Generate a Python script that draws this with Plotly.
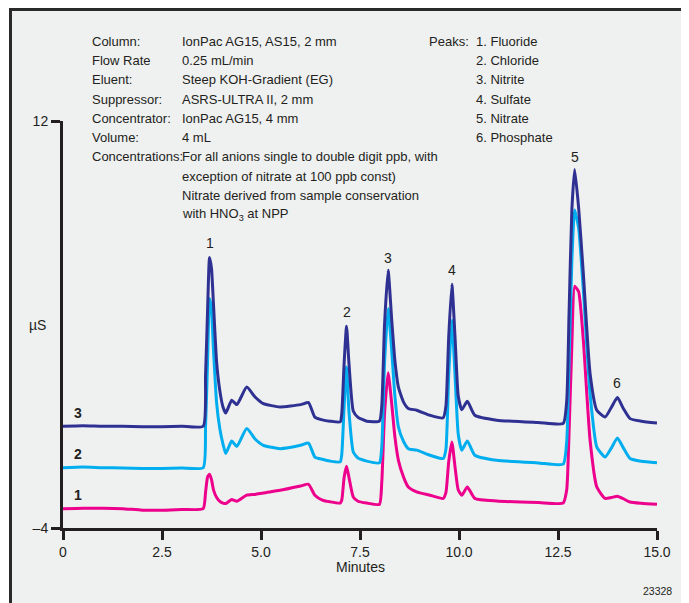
import plotly.graph_objects as go

# ---- data ----
minutes = [0, 0.5, 1.0, 1.5, 2.0, 2.5, 3.0, 3.54, 3.60, 3.65, 3.70, 3.75, 3.80, 3.88, 3.96,
           4.04, 4.11, 4.26, 4.39, 4.64, 4.85, 5.06, 5.48, 6.0, 6.2, 6.36, 6.55, 6.74, 7.0,
           7.04, 7.10, 7.16, 7.22, 7.33, 7.45, 7.67, 7.99, 8.05, 8.12, 8.21, 8.30, 8.38, 8.47,
           8.60, 8.72, 8.93, 9.27, 9.6, 9.67, 9.74, 9.82, 9.90, 9.98, 10.07, 10.21, 10.4,
           10.95, 12.0, 12.63, 12.72, 12.78, 12.85, 12.92, 13.02, 13.14, 13.31, 13.48, 13.69,
           13.85, 14.0, 14.15, 14.32, 14.6, 15.0]

trace3 = [0.0, 0.02, 0.0, 0.0, -0.02, -0.02, 0.0, 0.0, 2.0, 4.5, 6.63, 6.2, 4.8, 2.5, 1.4,
          0.76, 0.52, 1.02, 0.85, 1.54, 1.15, 0.89, 0.76, 0.85, 0.93, 0.36, 0.25, 0.2, 0.17,
          0.5, 2.5, 3.93, 2.5, 0.6, 0.35, 0.2, 0.2, 0.8, 4.0, 6.13, 4.2, 2.6, 1.54,
          0.95, 0.7, 0.63, 0.43, 0.33, 0.8, 3.5, 5.58, 3.5, 1.2, 0.65, 0.98, 0.43,
          0.24, 0.15, 0.11, 1.0, 4.5, 8.5, 10.09, 8.6, 6.0, 2.07, 0.63, 0.36,
          0.75, 1.13, 0.7, 0.3, 0.2, 0.13]

trace2 = [-1.63, -1.6, -1.63, -1.64, -1.66, -1.66, -1.64, -1.63, 0.0, 2.5, 5.02, 4.6, 3.0, 0.9, -0.1,
          -0.7, -1.07, -0.58, -0.79, -0.09, -0.5, -0.75, -0.88, -0.75, -0.66, -1.21, -1.3, -1.37, -1.4,
          -1.1, 0.8, 2.33, 0.6, -1.01, -1.25, -1.37, -1.44, -0.8, 2.5, 4.63, 3.0, 1.2, -0.03,
          -0.6, -0.88, -0.94, -1.14, -1.27, -0.9, 2.0, 4.17, 2.0, -0.3, -0.94, -0.58, -1.14,
          -1.34, -1.44, -1.49, -0.6, 2.5, 6.5, 8.5, 7.8, 5.35, 1.28, -0.82, -1.21,
          -0.85, -0.46, -0.85, -1.27, -1.38, -1.44]

trace1 = [-3.24, -3.22, -3.22, -3.24, -3.3, -3.3, -3.27, -3.24, -2.6, -2.0, -1.89, -2.1, -2.5, -2.8, -2.95,
          -3.02, -3.04, -2.88, -2.95, -2.71, -2.68, -2.62, -2.52, -2.35, -2.28, -2.71, -2.9, -2.97, -3.02,
          -2.9, -2.0, -1.57, -2.0, -2.78, -2.95, -3.02, -3.07, -2.2, 0.5, 2.1, 0.9, -0.4, -1.34,
          -2.0, -2.39, -2.58, -2.71, -2.84, -2.6, -1.4, -0.62, -1.6, -2.5, -2.71, -2.39, -2.84,
          -2.94, -3.0, -3.02, -2.5, -0.2, 3.2, 5.5, 5.3, 3.38, -0.55, -2.39, -2.84,
          -2.8, -2.75, -2.85, -2.98, -3.03, -3.07]

trace_names = ["1", "2", "3"]
trace_colors = ["#ec008c", "#00aeef", "#2e3192"]

x_tickvals = [0, 2.5, 5, 7.5, 10, 12.5, 15]
x_ticktext = ["0", "2.5", "5.0", "7.5", "10.0", "12.5", "15.0"]
y_tickvals = [-4, 12]
y_ticktext = ["\u20134", "12"]

peak_labels = ["1", "2", "3", "4", "5", "6"]
peak_times = [3.70, 7.16, 8.21, 9.82, 12.92, 14.0]
peak_label_y = [7.19, 4.5, 6.6, 6.13, 10.57, 1.69]

cond_keys = ["Column:", "Flow Rate", "Eluent:", "Suppressor:", "Concentrator:", "Volume:", "Concentrations:"]
cond_vals = ["IonPac AG15, AS15, 2 mm", "0.25 mL/min", "Steep KOH-Gradient (EG)",
             "ASRS-ULTRA II, 2 mm", "IonPac AG15, 4 mm", "4 mL",
             "For all anions single to double digit ppb, with",
             "exception of nitrate at 100 ppb const)",
             "Nitrate derived from sample conservation",
             "with HNO<sub>3</sub> at NPP"]
peak_names = ["1. Fluoride", "2. Chloride", "3. Nitrite", "4. Sulfate", "5. Nitrate", "6. Phosphate"]

# ---- layout geometry (screen pixels; page body has an 8px margin) ----
OFF = 8
W_FIG, H_FIG = 689 - OFF, 603 - OFF
L, R, T, B = 63 - OFF, 657 - OFF, 121 - OFF, 528 - OFF
PW, PH = R - L, B - T


def px(x):
    return (x - OFF - L) / PW


def py(y):
    return (B - (y - OFF)) / PH


FONT = "Liberation Sans Narrow, Arial Narrow, Liberation Sans, Arial, sans-serif"
TXT = "#231f20"
FS_BLOCK = 13
FS = 14

fig = go.Figure()
series = [trace1, trace2, trace3]
for name, col, vals in zip(trace_names, trace_colors, series):
    fig.add_trace(go.Scatter(x=minutes, y=vals, mode="lines", name=name,
                             line=dict(color=col, width=3, shape="spline", smoothing=0.5),
                             showlegend=False))

annotations = []
row_y = [41.3, 60.5, 79.8, 99.0, 118.3, 137.6, 156.9, 176.1, 195.4, 214.6]
for i, k in enumerate(cond_keys):
    annotations.append(dict(x=px(89.5), y=py(row_y[i]), text=k))
for i, v in enumerate(cond_vals):
    annotations.append(dict(x=px(179.5), y=py(row_y[i]), text=v))
annotations.append(dict(x=px(426.5), y=py(row_y[0]), text="Peaks:"))
for i, n in enumerate(peak_names):
    annotations.append(dict(x=px(473.5), y=py(row_y[i]), text=n))

for a in annotations:
    a.update(xref="paper", yref="paper", showarrow=False, xanchor="left", yanchor="middle",
             font=dict(size=FS_BLOCK, color=TXT, family=FONT))

for lab, t, yv in zip(peak_labels, peak_times, peak_label_y):
    annotations.append(dict(x=t, y=yv, xref="x", yref="y", text=lab, showarrow=False,
                            xanchor="center", yanchor="middle",
                            font=dict(size=FS, color=TXT, family=FONT)))

trace_label_y = [-2.71, -1.1, 0.51]
for name, yv in zip(trace_names, trace_label_y):
    annotations.append(dict(x=0.38, y=yv, xref="x", yref="y", text="<b>" + name + "</b>", showarrow=False,
                            xanchor="center", yanchor="middle",
                            font=dict(size=FS, color=TXT, family=FONT)))

annotations.append(dict(x=px(37), y=py(325), xref="paper", yref="paper", text="\u00b5S", showarrow=False,
                        xanchor="center", yanchor="middle",
                        font=dict(size=FS, color=TXT, family=FONT)))
annotations.append(dict(x=px(360), y=py(566.5), xref="paper", yref="paper", text="Minutes", showarrow=False,
                        xanchor="center", yanchor="middle",
                        font=dict(size=FS, color=TXT, family=FONT)))
annotations.append(dict(x=px(657), y=py(590.5), xref="paper", yref="paper", text="23328", showarrow=False,
                        xanchor="center", yanchor="middle",
                        font=dict(size=10.5, color=TXT, family=FONT)))

fig.update_layout(
    width=W_FIG, height=H_FIG,
    margin=dict(l=L, r=W_FIG - R, t=T, b=H_FIG - B, pad=0),
    paper_bgcolor="white",
    plot_bgcolor="rgba(0,0,0,0)",
    font=dict(family=FONT, size=FS, color=TXT),
    annotations=annotations,
    shapes=[dict(type="rect", xref="paper", yref="paper",
                 x0=px(10.5), x1=px(683), y0=py(640), y1=py(9.5),
                 fillcolor="#eff0f0", line=dict(color="#2b2a2a", width=3), layer="below")],
)
fig.update_xaxes(range=[0, 15], tickvals=x_tickvals, ticktext=x_ticktext,
                 showline=True, linewidth=3, linecolor=TXT, ticks="outside", ticklen=9,
                 tickwidth=3, tickcolor=TXT, showgrid=False, zeroline=False,
                 tickfont=dict(size=FS, color=TXT, family=FONT))
fig.update_yaxes(range=[-4, 12], tickvals=y_tickvals, ticktext=y_ticktext,
                 showline=True, linewidth=3, linecolor=TXT, ticks="outside", ticklen=9,
                 tickwidth=3, tickcolor=TXT, showgrid=False, zeroline=False,
                 tickfont=dict(size=FS, color=TXT, family=FONT))

fig.write_html("out.html")
